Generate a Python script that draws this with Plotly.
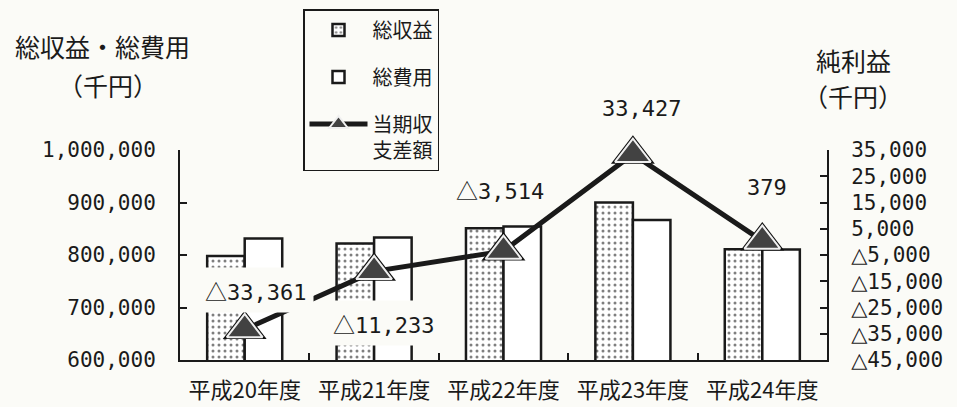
import plotly.graph_objects as go

# 年度別の総収益・総費用（千円）と当期収支差額（純利益、千円）
years = ["平成20年度", "平成21年度", "平成22年度", "平成23年度", "平成24年度"]
total_revenue = [798000, 822000, 851000, 899900, 810800]
total_expense = [831361, 833233, 854514, 866473, 810421]
net_balance = [-33361, -11233, -3514, 33427, 379]

left_ticks = [600000, 700000, 800000, 900000, 1000000]
right_ticks = [-45000, -35000, -25000, -15000, -5000, 5000, 15000, 25000, 35000]

# label offsets (px) relative to each marker: (xshift, yshift)
label_offsets = [(11, 39), (10, -52), (-4, 62), (9, 46), (5, 53)]

W, H = 957, 407
M_L, M_R, M_T, M_B = 180, 130, 150, 47

NUM_FONT = "DejaVu Sans Mono, Liberation Mono, monospace"
JP_FONT = "Noto Sans CJK JP, sans-serif"
BG = "#fbfbf7"
INK = "#1a1a1a"


def px_x(p):
    return (p - M_L) / (W - M_L - M_R)


def px_y(p):
    return (H - M_B - p) / (H - M_T - M_B)


def sen_yen(v, tri_font=None):
    """Format a value in 千円 with △ for negatives."""
    body = f"{abs(v):,}"
    if v >= 0:
        return body
    tri = f'<span style="font-family:{tri_font}">△</span>' if tri_font else "△"
    return tri + body


fig = go.Figure()

fig.add_trace(go.Bar(
    name="総収益", x=years, y=total_revenue, legendgroup="a",
    marker=dict(
        color="white",
        line=dict(color=INK, width=2.5),
        pattern=dict(shape=".", size=6, solidity=0.2, fgcolor="#000000", bgcolor="white"),
    ),
))
fig.add_trace(go.Bar(
    name="総費用", x=years, y=total_expense, legendgroup="b",
    marker=dict(color="white", line=dict(color=INK, width=2.5)),
))

# dark rim behind the triangle markers
fig.add_trace(go.Scatter(
    x=years, y=net_balance, yaxis="y2", mode="markers", showlegend=False,
    hoverinfo="skip", cliponaxis=False,
    marker=dict(symbol="triangle-up", size=38, color="#111111"),
))
fig.add_trace(go.Scatter(
    name="当期収<br>支差額", x=years, y=net_balance, yaxis="y2", legendgroup="c",
    mode="lines+markers", cliponaxis=False,
    line=dict(color=INK, width=5),
    marker=dict(symbol="triangle-up", size=31, color="#424242",
                line=dict(color="#f0f0f0", width=2)),
))

annotations = []
for yr, v, (dx, dy) in zip(years, net_balance, label_offsets):
    annotations.append(dict(
        x=yr, y=v, xref="x", yref="y2", xshift=dx, yshift=dy,
        xanchor="center", yanchor="middle",
        text=sen_yen(v, tri_font=JP_FONT), showarrow=False,
        font=dict(family=NUM_FONT, size=22, color=INK),
        bgcolor=BG, borderpad=6,
    ))

# axis titles
title_font = dict(family=JP_FONT, size=25, color=INK)
for text, cx, cy in [("総収益・総費用", 102, 46), ("（千円）", 108, 85),
                     ("純利益", 854, 60), ("（千円）", 853, 96)]:
    annotations.append(dict(
        x=px_x(cx), y=px_y(cy), xref="paper", yref="paper", showarrow=False,
        xanchor="center", yanchor="middle", text=text, font=title_font,
    ))

axis_common = dict(
    showline=True, linecolor=INK, linewidth=2, ticks="inside", ticklen=7,
    tickcolor=INK, tickwidth=1.5, showgrid=False, zeroline=False,
    automargin=False,
)

fig.update_layout(
    width=W, height=H,
    margin=dict(l=M_L, r=M_R, t=M_T, b=M_B, pad=0, autoexpand=False),
    paper_bgcolor=BG, plot_bgcolor=BG,
    barmode="group", bargap=0.42, bargroupgap=0,
    showlegend=True,
    legend=dict(
        x=px_x(303), y=px_y(9), xanchor="left", yanchor="top",
        bordercolor=INK, borderwidth=1.5, bgcolor=BG,
        font=dict(family=JP_FONT, size=20, color=INK),
        tracegroupgap=18, itemwidth=58, valign="top",
    ),
    xaxis=dict(
        **axis_common, tickson="boundaries",
        tickfont=dict(family=JP_FONT, size=22, color=INK),
        ticklabelstandoff=10,
    ),
    yaxis=dict(
        **axis_common, range=[600000, 1000000], tickvals=left_ticks,
        tickformat=",", ticklabelstandoff=18,
        tickfont=dict(family=NUM_FONT, size=21, color=INK),
    ),
    yaxis2=dict(
        **axis_common, overlaying="y", side="right", range=[-45000, 35000],
        tickvals=right_ticks, ticktext=[sen_yen(v, tri_font="DejaVu Sans") for v in right_ticks],
        ticklabelstandoff=18,
        tickfont=dict(family=NUM_FONT, size=21, color=INK),
    ),
    annotations=annotations,
)

fig.write_html("out.html", config={"displayModeBar": False})
